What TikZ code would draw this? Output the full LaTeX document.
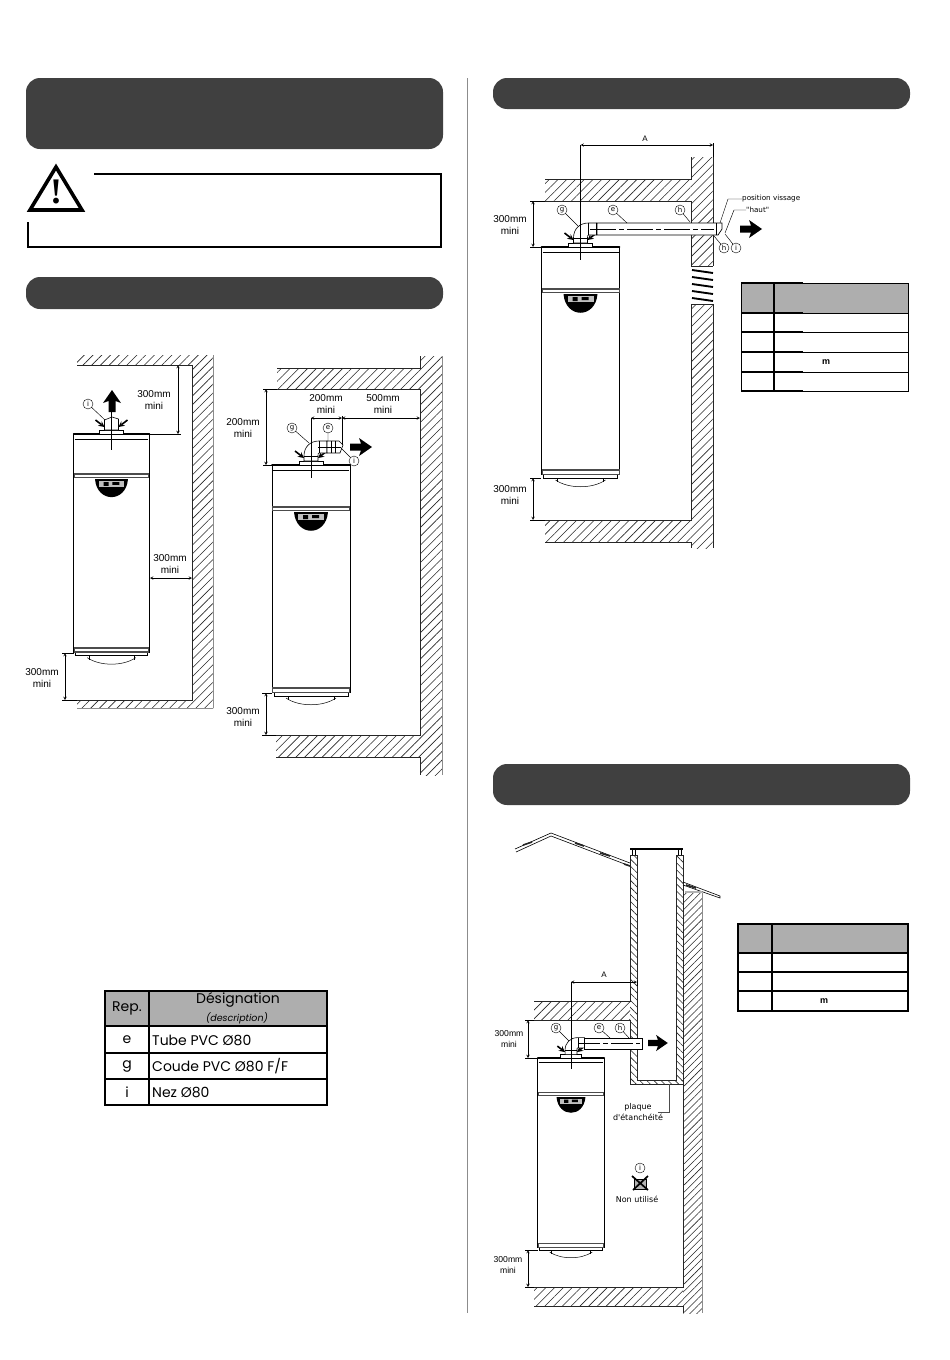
\documentclass[tikz,border=0pt]{standalone}
\usepackage{fontspec}
\setmainfont{Liberation Sans}
\newfontfamily\tablefont{Poppins}
\newfontfamily\notefont{DejaVu Sans}
\newfontfamily\warnfont{Liberation Serif}
\usetikzlibrary{calc,arrows,patterns.meta}
\definecolor{bardark}{HTML}{404040}
\definecolor{headgray}{HTML}{AEAEAE}
\tikzset{
  hatch/.style={pattern={Lines[angle=45,distance=6.2pt,line width=.6pt]},pattern color=black!85},
  hatchfine/.style={pattern={Lines[angle=45,distance=5pt,line width=.55pt]},pattern color=black!85},
  hatchback/.style={pattern={Lines[angle=-45,distance=5pt,line width=.6pt]},pattern color=black!85},
  wallline/.style={line width=.9pt,black!85},
  edgeline/.style={line width=.6pt,black!45},
  titlebar/.style={fill=bardark,rounded corners=14pt},
  dimline/.style={<->,>=stealth,line width=.5pt},
  extline/.style={line width=.6pt},
  leader/.style={line width=.45pt},
  axisline/.style={line width=.5pt},
  refmark/.style={circle,draw,line width=.4pt,inner sep=0pt,minimum size=10pt,font=\notefont\fontsize{7}{7}\selectfont},
  dimtext/.style={align=center,inner sep=0pt,font=\fontsize{10}{12}\selectfont},
  dimsmall/.style={align=center,inner sep=0pt,font=\fontsize{8.6}{10.4}\selectfont},
  notetext/.style={align=center,inner sep=0pt,font=\notefont\fontsize{8}{11}\selectfont},
  tablehead/.style={inner sep=0pt,font=\tablefont\fontsize{14}{14}\selectfont},
  tablecell/.style={inner sep=0pt,font=\tablefont\fontsize{14}{14}\selectfont},
  heater/.pic={
    \fill[white] (-39,0) rectangle (39,228);
    \draw[line width=.9pt] (-39,0) -- (-39,228) (39,0) -- (39,228);
    \draw[line width=1.7pt,line cap=round] (-39,0) -- (39,0);
    \draw[line width=.5pt] (-38,5) -- (38,5);
    \fill[black!70] (-39,41) rectangle (39,46);
    \fill[white] (-38,42.5) rectangle (38,44.5);
    \fill[black] (-17,47) .. controls (-15,72) and (15,72) .. (17,47) -- cycle;
    \fill[black!25] (-13,49) rectangle (13,55);
    \fill[black] (-8,50) rectangle (-3,54) (1,50) rectangle (8,53);
    \fill[black!70] (-39,222) rectangle (39,228);
    \fill[white] (-38,223.5) rectangle (38,226.5);
    \draw[line width=.8pt] (-37,228) -- (-37,231) -- (37,231) -- (37,228);
    \draw[line width=.6pt] (-23,231) -- (-23,235) (23,231) -- (23,235);
    \draw[line width=.5pt] (-25,233) .. controls (-12,242) and (12,242) .. (25,233);
  },
  ventbase/.pic={
    \draw[line width=.8pt,fill=white] (-12,-4) rectangle (12,0);
    \draw[line width=1.6pt,-stealth] (-16,-14) -- (-7,-7);
    \draw[line width=1.6pt,-stealth] (16,-14) -- (7,-7);
  },
  elbow/.pic={
    \draw[line width=.6pt,fill=white] (-7,-4) -- (-7,-9) .. controls (-7,-18) and (-1,-24) .. (8,-24) -- (16,-24) -- (16,-12) -- (8,-12) .. controls (7,-12) and (7,-11) .. (7,-9) -- (7,-4) -- cycle;
    \draw[line width=.5pt] (8,-24) -- (8,-12) (-7,-9) -- (7,-9);
  },
  bigarrow/.pic={
    \fill[black] (0,-3.5) -- (11,-3.5) -- (9,-9) -- (22,0) -- (9,9) -- (11,3.5) -- (0,3.5) -- cycle;
  },
}
\begin{document}
\begin{tikzpicture}[x=1pt,y=-1pt]
\useasboundingbox (0,0) rectangle (950,1360);
% title bars and column rule
\fill[titlebar] (26,78) rectangle (443,149);
\fill[titlebar] (26,277) rectangle (443,309);
\fill[titlebar] (493,78) rectangle (910,109);
\fill[titlebar] (493,764) rectangle (910,805);
\draw[line width=.6pt,black!45] (467,78) -- (467,1313);

% warning frame
\draw[line width=2.6pt,miter limit=2] (94,174) -- (441,174) -- (441,247) -- (28,247) -- (28,222);
\draw[line width=3.6pt,line join=miter] (56,167) -- (82,210) -- (30,210) -- cycle;
\node[inner sep=0pt,font=\warnfont\bfseries\fontsize{36}{36}\selectfont] (warnmark) at (56,192) {!};

% --- left drawing, nozzle straight up
\path[hatch] (77,355) rectangle (192,365);
\path[hatch] (192,355) rectangle (213,708);
\path[hatch] (77,700) rectangle (192,708);
\draw[wallline] (77,365) -- (192,365) -- (192,700) -- (77,700);
\draw[edgeline] (213,355) -- (213,708) (77,708) -- (213,708);
\pic[xscale=.97,yscale=.96] at (111.5,434) {heater};
\pic at (111.5,434) {ventbase};
\draw[line width=.6pt,fill=white] (104.5,430) -- (104.5,420) -- (112,417) -- (118.5,419) -- (118.5,430) -- cycle;
\draw[axisline] (111.5,412) -- (111.5,450);
\pic[rotate=90] at (112,412) {bigarrow};
\node[refmark] (ia) at (88,404) {i};
\coordinate (iaend) at (105,420);
\draw[leader] (ia) -- (iaend);
\draw[extline] (150,434) -- (181,434);
\draw[dimline] (178,365) -- (178,434);
\node[dimtext] (topa) at (154,400) {300mm\\mini};
\draw[dimline] (150,578) -- (192,578);
\node[dimtext] (sidea) at (170,564) {300mm\\mini};
\draw[extline] (62,653) -- (74,653) (62,700) -- (77,700);
\draw[dimline] (65,653) -- (65,700);
\node[dimtext] (bota) at (42,678) {300mm\\mini};

% --- second drawing, nozzle to the side
\path[hatch] (277,368) rectangle (420,389);
\path[hatch] (420,356) rectangle (442,775);
\path[hatch] (276,735) rectangle (420,757);
\draw[wallline] (420,356) -- (420,368) -- (277,368);
\draw[wallline] (277,389) -- (420,389) -- (420,735) -- (276,735);
\draw[wallline] (276,757) -- (420,757) -- (420,775);
\draw[edgeline] (442,356) -- (442,775);
\pic at (311,465) {heater};
\pic at (311,465) {ventbase};
\pic at (311,465) {elbow};
\draw[line width=.6pt,fill=white] (327,441) -- (339,441) -- (343,445) -- (340,453) -- (327,453) -- cycle;
\draw[leader] (331,441) -- (331,453) (335,441) -- (335,453);
\draw[axisline] (311,418) -- (311,478);
\draw[axisline] (318,447) -- (341,447);
\draw[extline] (342,416) -- (342,445);
\pic at (350,447) {bigarrow};
\node[refmark] (gb) at (292,428) {g};
\node[refmark] (eb) at (328,428) {e};
\node[refmark] (ib) at (354,461) {i};
\coordinate (gbend) at (309,443);
\coordinate (ebend) at (328,441);
\coordinate (ibend) at (341,448);
\draw[leader] (gb) -- (gbend) (eb) -- (ebend) (ib) -- (ibend);
\draw[extline] (263,389) -- (277,389) (263,465) -- (272,465);
\draw[dimline] (266,389) -- (266,465);
\node[dimtext] (topb) at (243,428) {200mm\\mini};
\draw[dimline] (311,418) -- (342,418);
\draw[dimline] (342,418) -- (420,418);
\node[dimtext] (pipeb) at (326,404) {200mm\\mini};
\node[dimtext] (wallb) at (383,404) {500mm\\mini};
\draw[extline] (262,693) -- (272,693) (262,735) -- (276,735);
\draw[dimline] (266,693) -- (266,735);
\node[dimtext] (botb) at (243,717) {300mm\\mini};

% parts table
\fill[headgray] (105,991) rectangle (327,1026);
\draw[line width=1.4pt] (105,991) rectangle (327,1105);
\draw[line width=1.4pt] (149,991) -- (149,1105) (105,1026) -- (327,1026);
\draw[line width=1.2pt] (105,1053) -- (327,1053) (105,1079) -- (327,1079);
\node[tablehead] (rephead) at (127,1008) {Rep.};
\node[tablehead] (deshead) at (238,1000) {Désignation};
\node[inner sep=0pt,font=\tablefont\itshape\fontsize{9.5}{10}\selectfont] (descr) at (237,1018) {(description)};
\node[tablecell] (repe) at (127,1040) {e};
\node[tablecell] (repg) at (127,1066) {g};
\node[tablecell] (repi) at (127,1092) {i};
\node[tablecell,anchor=west] (tube) at (152,1040) {Tube PVC Ø80};
\node[tablecell,anchor=west] (coude) at (152,1066) {Coude PVC Ø80 F/F};
\node[tablecell,anchor=west] (nez) at (152,1092) {Nez Ø80};

% --- through the wall
\path[hatch] (545,179) rectangle (691,201);
\path[hatch] (691,157) rectangle (713,266);
\path[hatch] (691,304) rectangle (713,548);
\path[hatch] (545,520) rectangle (691,542);
\draw[wallline] (691,157) -- (691,179) -- (545,179);
\draw[wallline] (545,201) -- (691,201) -- (691,266) -- (713,266);
\draw[wallline] (713,304) -- (691,304) -- (691,520) -- (545,520);
\draw[wallline] (545,542) -- (691,542) -- (691,548);
\draw[wallline] (713,157) -- (713,266) (713,304) -- (713,548);
\foreach \y in {270,277,284,291,298}
  \draw[line width=1.9pt] (692,\y) -- (713,\y+3);
\pic at (580.5,247) {heater};
\pic at (580.5,247) {ventbase};
\pic at (580.5,247) {elbow};
\draw[line width=.7pt,fill=white] (597,223) -- (722,223) -- (722,229) -- (718,235) -- (597,235) -- cycle;
\draw[leader] (716,223) -- (716,235);
\draw[axisline,dash pattern=on 26pt off 3pt on 5pt off 3pt] (590,229) -- (714,229);
\draw[axisline] (580.5,145) -- (580.5,260);
\draw[extline] (713,143) -- (713,157);
\draw[dimline] (580.5,145) -- (713,145);
\node[inner sep=0pt,font=\fontsize{8}{8}\selectfont] (dima) at (645,139) {A};
\pic at (740,229) {bigarrow};
\node[refmark] (gc) at (562,210) {g};
\node[refmark] (ec) at (613,210) {e};
\node[refmark] (hc) at (680,210) {h};
\node[refmark] (hd) at (724,248) {h};
\node[refmark] (id) at (736,248) {i};
\coordinate (gcend) at (578,226);
\coordinate (ecend) at (627,223);
\coordinate (hcend) at (690,222);
\coordinate (hdend) at (714,236);
\coordinate (idend) at (725,234);
\draw[leader] (gc) -- (gcend) (ec) -- (ecend) (hc) -- (hcend) (hd) -- (hdend) (id) -- (idend);
\node[anchor=west,inner sep=0pt,font=\notefont\fontsize{7.2}{8}\selectfont] (vissage) at (742,199) {position vissage};
\node[anchor=west,inner sep=0pt,font=\notefont\fontsize{7.2}{8}\selectfont] (haut) at (746,210) {"haut"};
\coordinate (vissbend) at (728,199);
\coordinate (vissend) at (720,223);
\coordinate (hautbend) at (734,210);
\coordinate (hautend) at (725,233);
\draw[leader] (vissage) -- (vissbend) -- (vissend);
\draw[leader] (haut) -- (hautbend) -- (hautend);
\draw[extline] (530,201) -- (545,201) (530,247) -- (541,247);
\draw[dimline] (533,201) -- (533,247);
\node[dimtext] (topc) at (510,225) {300mm\\mini};
\draw[extline] (530,478) -- (541,478) (530,520) -- (545,520);
\draw[dimline] (533,478) -- (533,520);
\node[dimtext] (botc) at (510,495) {300mm\\mini};

% table, through the wall
\fill[headgray] (741,283) rectangle (908,313);
\draw[line width=.9pt] (741,283) rectangle (908,391);
\draw[line width=1.1pt] (774,283) -- (774,391);
\foreach \y in {313,332,352,372}
  \draw[line width=.9pt] (741,\y) -- (908,\y);
\foreach \y/\w in {283/1.3pt,313/1.2pt,332/1.6pt,352/1.2pt,372/1.2pt,391/1.3pt}
  \draw[line width=\w] (741,\y) -- (803,\y);
\node[inner sep=0pt,font=\bfseries\fontsize{9}{9}\selectfont] (unitc) at (826,362) {m};

% --- chimney
\path[hatchfine] (683,893) rectangle (702,1313);
\path[hatch] (534,1001) rectangle (630,1020);
\path[hatch] (534,1287) rectangle (683,1306);
\path[hatchback] (630,855) rectangle (637,1080);
\path[hatchback] (676,855) rectangle (683,1080);
\path[hatchback] (630,1080) rectangle (683,1084);
\draw[wallline] (630,855) -- (630,1001) -- (534,1001);
\draw[wallline] (534,1020) -- (630,1020) -- (630,1084) -- (683,1084);
\draw[wallline] (637,855) -- (637,1080) -- (676,1080) -- (676,855);
\draw[wallline] (630,855) -- (637,855) (676,855) -- (683,855);
\draw[wallline] (683,855) -- (683,1287) -- (534,1287);
\draw[wallline] (534,1306) -- (683,1306) -- (683,1313);
\draw[edgeline] (702,893) -- (702,1313);
\draw[line width=1.1pt] (630,849) -- (683,849);
\draw[line width=.5pt] (632,849) -- (632,855) (635,849) -- (635,855) (678,849) -- (678,855) (681,849) -- (681,855);
% roof
\draw[line width=.6pt] (515,849) -- (551,833) -- (630,863);
\draw[line width=.6pt] (516,852) -- (551,836) -- (630,866);
\draw[line width=.6pt] (683,882) -- (720,896) -- (720,898) -- (683,885);
\foreach \xa/\ya/\xb/\yb in {523/845/532/842,575/843/584/846,600/853/610/856,624/864/630/866,686/885/696/888}
  \draw[line width=1.6pt,black!85] (\xa,\ya) -- (\xb,\yb);
\fill[black!30] (685,891) rectangle (702,893);
% heater and pipe
\pic[xscale=.85,yscale=.833] at (571,1058) {heater};
\pic[scale=.85] at (571,1058) {ventbase};
\pic[scale=.85] at (571,1058) {elbow};
\draw[line width=.7pt,fill=white] (584.5,1038) -- (642,1038) -- (642,1049) -- (584.5,1049) -- cycle;
\draw[axisline,dash pattern=on 22pt off 3pt on 5pt off 3pt] (578,1043.5) -- (640,1043.5);
\draw[axisline] (571,982) -- (571,1069);
\draw[extline] (637,980) -- (637,986);
\draw[dimline] (571,982) -- (637,982);
\node[inner sep=0pt,font=\fontsize{8}{8}\selectfont] (dimb) at (604,975) {A};
\pic[scale=.9] at (648,1043) {bigarrow};
\node[refmark] (ge) at (556,1028) {g};
\node[refmark] (ee) at (599,1028) {e};
\node[refmark] (he) at (620,1028) {h};
\coordinate (geend) at (569,1041);
\coordinate (eeend) at (610,1038);
\coordinate (heend) at (629,1038);
\draw[leader] (ge) -- (geend) (ee) -- (eeend) (he) -- (heend);
\draw[extline] (525,1020) -- (534,1020) (525,1058) -- (538,1058);
\draw[dimline] (528,1020) -- (528,1058);
\node[dimsmall] (topd) at (509,1039) {300mm\\mini};
\draw[extline] (525,1250) -- (538,1250) (525,1287) -- (534,1287);
\draw[dimline] (528,1250) -- (528,1287);
\node[dimsmall] (botd) at (508,1265) {300mm\\mini};
% sealing plate and unused part
\node[notetext] (plaque) at (638,1112) {plaque\\d'étanchéité};
\coordinate (plaquebend) at (669,1112);
\coordinate (plaqueend) at (669,1084);
\draw[line width=.6pt,black!70] (658,1112) -- (plaquebend) -- (plaqueend);
\node[refmark] (iu) at (640,1168) {i};
\coordinate (unuseda) at (632,1176);
\coordinate (unusedb) at (648,1190);
\coordinate (unusedc) at (648,1176);
\coordinate (unusedd) at (633,1190);
\draw[line width=.5pt,fill=black!30] (634,1179) rectangle (646,1189);
\draw[line width=1.7pt] (unuseda) -- (unusedb) (unusedc) -- (unusedd);
\node[inner sep=0pt,font=\notefont\fontsize{8}{9}\selectfont] (nonutil) at (637,1199) {Non utilisé};

% table, chimney
\fill[headgray] (738,924) rectangle (908,953);
\draw[line width=1.1pt] (738,924) rectangle (908,1011);
\draw[line width=1.1pt] (772,924) -- (772,1011);
\foreach \y in {953,972,991}
  \draw[line width=1.1pt] (738,\y) -- (908,\y);
\node[inner sep=0pt,font=\bfseries\fontsize{9}{9}\selectfont] (unitd) at (824,1001) {m};
\end{tikzpicture}
\end{document}
